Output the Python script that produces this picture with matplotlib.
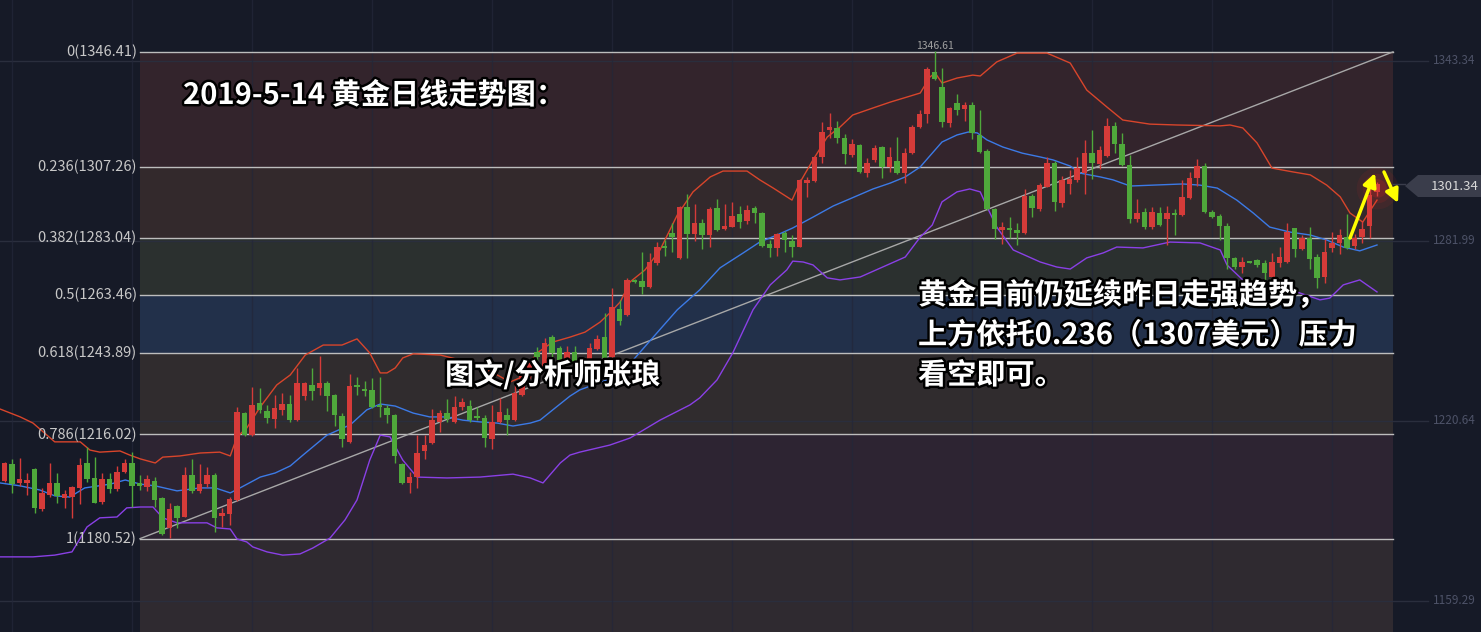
import numpy as np
import matplotlib
matplotlib.use("Agg")
import matplotlib.pyplot as plt
import matplotlib.patheffects as pe
from matplotlib.patches import Polygon
from matplotlib.transforms import IdentityTransform

plt.rcParams['font.family'] = ['Noto Sans CJK SC', 'DejaVu Sans']

# Gold daily candles (red = up, green = down)
opens = [
    1200.2, 1205.9, 1199.5, 1199.5, 1204.2, 1190.6, 1195.4, 1199.5, 1194.4, 1194.7,
    1197.8, 1206.3, 1201.2, 1193.0, 1200.8, 1197.4, 1203.2, 1206.3, 1199.5, 1198.1,
    1200.2, 1194.4, 1184.2, 1191.6, 1187.9, 1202.2, 1196.8, 1199.1, 1202.2, 1188.2,
    1188.9, 1193.7, 1223.3, 1215.8, 1226.8, 1224.0, 1221.3, 1224.4, 1226.4, 1220.9,
    1229.1, 1232.9, 1231.9, 1233.6, 1229.5, 1222.3, 1213.5, 1232.9, 1231.5, 1231.2,
    1226.1, 1225.0, 1222.7, 1205.9, 1199.5, 1201.5, 1210.4, 1213.1, 1220.3, 1223.3,
    1220.3, 1225.4, 1225.7, 1222.0, 1221.6, 1214.5, 1220.3, 1222.7, 1220.9, 1229.5,
    1237.3, 1244.1, 1239.0, 1249.2, 1245.5, 1241.7, 1244.1, 1240.7, 1240.4, 1245.2,
    1249.2, 1242.4, 1258.8, 1256.7, 1268.7, 1268.3, 1266.3, 1274.5, 1280.2, 1284.7,
    1276.2, 1293.6, 1284.3, 1288.1, 1284.0, 1293.2, 1286.1, 1286.7, 1291.2, 1288.8,
    1293.2, 1291.5, 1280.9, 1279.6, 1284.7, 1282.0, 1279.9, 1301.7, 1302.4, 1310.6,
    1319.8, 1320.5, 1317.1, 1311.3, 1314.7, 1305.1, 1309.6, 1314.0, 1307.2, 1309.2,
    1305.1, 1312.0, 1320.8, 1325.2, 1339.6, 1334.5, 1322.2, 1329.0, 1327.0, 1328.3,
    1318.1, 1312.6, 1292.9, 1285.7, 1286.4, 1285.7, 1284.7, 1297.3, 1292.9, 1300.4,
    1308.5, 1294.9, 1301.4, 1302.8, 1305.1, 1312.0, 1308.2, 1311.0, 1321.2, 1315.0,
    1307.9, 1289.5, 1291.8, 1286.7, 1291.5, 1289.5, 1291.5, 1290.8, 1296.6, 1303.4,
    1307.5, 1291.8, 1290.5, 1287.1, 1276.2, 1273.1, 1275.1, 1275.5, 1274.5, 1269.7,
    1274.5, 1274.8, 1286.4, 1279.2, 1283.0, 1276.5, 1269.7, 1279.6, 1281.3, 1283.3,
    1280.3, 1283.3, 1287.1, 1298.7]
highs = [
    1206.6, 1207.7, 1208.0, 1202.9, 1204.6, 1197.8, 1206.3, 1202.9, 1197.1, 1198.5,
    1208.0, 1211.7, 1208.3, 1202.9, 1202.9, 1205.3, 1207.7, 1210.0, 1202.2, 1202.2,
    1201.5, 1194.7, 1192.7, 1192.0, 1204.9, 1207.7, 1205.9, 1204.9, 1202.9, 1191.0,
    1194.7, 1225.4, 1223.7, 1232.2, 1231.9, 1226.1, 1229.5, 1230.2, 1229.5, 1238.7,
    1233.8, 1238.7, 1242.8, 1234.2, 1229.8, 1223.3, 1236.6, 1235.6, 1234.2, 1235.3,
    1235.6, 1226.1, 1223.0, 1206.3, 1203.2, 1215.8, 1215.8, 1224.7, 1224.4, 1228.1,
    1229.1, 1228.5, 1227.8, 1225.4, 1222.7, 1226.1, 1228.5, 1225.0, 1233.9, 1239.0,
    1241.4, 1245.8, 1248.9, 1249.9, 1246.2, 1246.2, 1246.2, 1242.4, 1247.2, 1249.9,
    1257.4, 1265.9, 1261.9, 1269.4, 1269.0, 1278.2, 1277.9, 1281.6, 1282.3, 1288.1,
    1293.9, 1298.0, 1294.6, 1289.5, 1293.6, 1296.3, 1294.6, 1295.3, 1293.9, 1294.2,
    1293.9, 1291.8, 1282.3, 1284.7, 1285.4, 1284.0, 1303.1, 1303.8, 1311.0, 1322.5,
    1325.6, 1322.9, 1318.4, 1316.7, 1315.0, 1310.2, 1314.7, 1314.3, 1314.0, 1317.4,
    1313.7, 1321.5, 1326.6, 1341.3, 1346.6, 1340.9, 1327.6, 1332.1, 1329.3, 1329.3,
    1326.6, 1313.3, 1293.2, 1288.4, 1290.1, 1288.1, 1299.7, 1298.0, 1301.7, 1310.6,
    1309.2, 1304.1, 1306.2, 1310.6, 1316.4, 1319.8, 1314.3, 1323.9, 1322.5, 1318.8,
    1311.3, 1296.3, 1293.2, 1293.6, 1293.6, 1293.9, 1292.9, 1302.8, 1305.5, 1309.9,
    1308.5, 1292.5, 1291.2, 1288.1, 1276.5, 1276.5, 1275.3, 1275.8, 1275.5, 1277.9,
    1279.9, 1288.1, 1286.4, 1284.0, 1286.7, 1277.5, 1282.6, 1285.0, 1286.1, 1291.2,
    1284.3, 1288.8, 1299.7, 1302.1]
lows = [
    1199.8, 1196.1, 1198.5, 1195.4, 1189.3, 1189.9, 1194.7, 1192.7, 1191.0, 1187.6,
    1192.3, 1199.8, 1192.5, 1192.3, 1196.1, 1196.8, 1202.9, 1191.3, 1197.1, 1196.8,
    1191.3, 1181.8, 1180.7, 1184.2, 1187.9, 1196.1, 1196.1, 1198.1, 1182.8, 1184.5,
    1185.2, 1193.5, 1215.5, 1215.5, 1223.3, 1219.9, 1218.2, 1222.7, 1220.3, 1220.6,
    1227.8, 1227.8, 1229.5, 1224.0, 1218.9, 1211.7, 1213.1, 1229.5, 1229.1, 1225.0,
    1222.0, 1219.9, 1206.3, 1199.1, 1196.1, 1197.8, 1207.7, 1212.8, 1216.9, 1220.3,
    1219.9, 1224.4, 1220.3, 1220.9, 1211.7, 1211.1, 1219.9, 1215.8, 1220.6, 1229.1,
    1235.3, 1240.7, 1238.7, 1242.1, 1239.0, 1240.4, 1239.0, 1233.6, 1239.0, 1244.8,
    1241.4, 1242.1, 1253.3, 1256.4, 1267.7, 1263.9, 1265.9, 1273.8, 1276.9, 1278.2,
    1275.8, 1276.2, 1282.0, 1279.2, 1279.9, 1285.4, 1285.7, 1286.7, 1286.4, 1287.8,
    1288.1, 1279.9, 1276.5, 1276.9, 1278.2, 1276.5, 1279.8, 1297.0, 1302.1, 1308.5,
    1317.1, 1315.4, 1308.2, 1310.6, 1305.1, 1303.8, 1308.9, 1303.4, 1305.5, 1304.8,
    1301.7, 1311.6, 1320.5, 1322.2, 1336.8, 1320.8, 1320.8, 1324.9, 1322.9, 1316.7,
    1312.0, 1292.5, 1282.6, 1280.9, 1283.0, 1280.6, 1284.5, 1290.1, 1292.2, 1300.2,
    1292.2, 1293.6, 1298.0, 1302.1, 1298.0, 1303.1, 1306.5, 1310.6, 1312.0, 1307.5,
    1288.1, 1288.4, 1286.1, 1286.1, 1287.1, 1280.6, 1284.0, 1290.5, 1296.3, 1300.7,
    1291.5, 1289.8, 1282.3, 1272.4, 1272.4, 1271.1, 1274.3, 1273.1, 1268.7, 1267.6,
    1273.1, 1274.5, 1276.5, 1278.9, 1272.4, 1265.9, 1267.6, 1278.2, 1277.5, 1279.2,
    1279.2, 1281.3, 1283.0, 1297.3]
closes = [
    1206.3, 1199.1, 1200.8, 1200.5, 1191.0, 1196.1, 1199.5, 1195.1, 1195.7, 1198.1,
    1205.6, 1200.8, 1192.7, 1200.8, 1197.4, 1203.2, 1206.3, 1198.5, 1198.5, 1200.8,
    1193.7, 1182.1, 1190.6, 1187.6, 1202.2, 1196.8, 1199.1, 1202.2, 1187.6, 1189.3,
    1194.0, 1223.7, 1215.8, 1226.1, 1224.4, 1221.6, 1225.0, 1226.4, 1220.9, 1233.6,
    1233.6, 1230.8, 1233.6, 1229.1, 1222.7, 1214.5, 1232.5, 1232.2, 1230.8, 1225.4,
    1225.4, 1222.7, 1208.7, 1199.5, 1201.5, 1209.7, 1212.4, 1220.9, 1223.3, 1221.3,
    1225.4, 1227.1, 1220.9, 1221.6, 1214.8, 1220.3, 1223.7, 1220.9, 1230.2, 1238.0,
    1240.4, 1242.4, 1247.2, 1243.8, 1241.4, 1244.1, 1240.7, 1239.7, 1245.5, 1248.6,
    1242.1, 1259.5, 1254.7, 1268.7, 1268.0, 1266.3, 1274.8, 1279.9, 1279.6, 1283.3,
    1293.6, 1284.3, 1288.1, 1284.0, 1292.9, 1285.7, 1287.1, 1290.5, 1288.4, 1292.5,
    1291.5, 1280.3, 1279.6, 1284.3, 1282.3, 1279.9, 1302.8, 1302.8, 1310.6, 1319.1,
    1320.8, 1317.1, 1311.6, 1315.0, 1305.5, 1308.5, 1313.7, 1307.2, 1310.6, 1305.1,
    1312.0, 1320.8, 1325.2, 1340.6, 1337.2, 1322.5, 1327.3, 1326.6, 1328.3, 1318.8,
    1312.3, 1292.9, 1286.1, 1286.7, 1285.7, 1284.7, 1297.3, 1293.2, 1301.0, 1308.5,
    1295.3, 1302.8, 1303.1, 1306.8, 1312.0, 1308.5, 1313.0, 1321.2, 1315.0, 1307.9,
    1289.5, 1291.5, 1286.7, 1291.8, 1287.4, 1291.5, 1290.8, 1297.0, 1303.4, 1307.5,
    1291.8, 1290.1, 1287.1, 1276.2, 1273.1, 1274.8, 1274.5, 1273.8, 1271.1, 1274.8,
    1276.5, 1285.0, 1279.2, 1283.0, 1275.8, 1269.4, 1278.2, 1281.3, 1284.0, 1279.6,
    1283.0, 1286.1, 1297.6, 1301.3]

# Bollinger bands, sampled along the candle index
upper_x = [-0.6, 2.1, 3.8, 6.7, 10.1, 11.4, 12.7, 15.4, 16.7, 18.1, 20.1, 21.1, 23.4, 26.1,
           28.7, 30.1, 31.0, 32.3, 34.1, 36.3, 38.1, 40.1, 42.5, 45.0, 47.0, 48.7, 50.1,
           51.0, 52.1, 53.1, 54.5, 58.1, 60.3, 63.4, 65.7, 67.4, 68.7, 71.0, 73.1, 75.4,
           77.4, 79.4, 80.7, 82.1, 83.4, 85.4, 87.4, 89.7, 91.8, 94.1, 95.8, 99.0, 100.7,
           102.5, 105.0, 106.1, 107.8, 109.7, 111.4, 113.1, 115.8, 118.1, 120.3, 122.1,
           123.4, 124.1, 125.0, 127.0, 129.1, 130.1, 132.3, 135.0, 139.0, 142.1, 144.3,
           147.0, 149.1, 152.7, 156.3, 162.1, 163.4, 165.1, 167.0, 169.0, 171.8, 174.1,
           176.3, 178.1, 179.4, 181.1, 183.0]
upper_y = [1224.7, 1222.0, 1219.9, 1213.5, 1213.5, 1210.7, 1210.0, 1210.4, 1209.0, 1207.7,
           1206.3, 1208.3, 1208.7, 1209.7, 1210.0, 1208.7, 1215.2, 1218.2, 1225.4, 1232.9,
           1236.3, 1243.1, 1246.5, 1246.5, 1248.6, 1243.8, 1237.0, 1237.0, 1238.7, 1242.1,
           1243.5, 1243.1, 1241.7, 1239.0, 1236.3, 1233.9, 1235.3, 1243.8, 1247.5, 1249.2,
           1250.9, 1254.3, 1257.4, 1261.2, 1268.0, 1272.1, 1278.9, 1290.8, 1298.7, 1303.8,
           1305.8, 1305.8, 1302.8, 1300.0, 1295.9, 1302.1, 1309.6, 1317.4, 1320.8, 1324.9,
           1327.3, 1329.3, 1331.0, 1332.4, 1337.9, 1339.2, 1335.8, 1337.5, 1338.5, 1338.2,
           1343.0, 1346.0, 1346.0, 1342.6, 1333.4, 1327.6, 1323.2, 1321.8, 1321.5, 1321.2,
           1321.5, 1320.5, 1315.4, 1306.8, 1305.5, 1304.5, 1301.0, 1297.0, 1291.5, 1288.4,
           1295.9]
mid_x = [-0.6, 2.1, 4.7, 6.7, 8.7, 10.7, 14.1, 16.1, 18.1, 20.1, 23.0, 26.1, 28.1, 30.1,
         31.4, 34.1, 36.1, 38.1, 39.8, 43.0, 46.1, 48.3, 50.1, 52.1, 54.5, 56.7, 59.0, 61.1,
         63.4, 65.7, 67.8, 70.1, 71.4, 73.1, 75.4, 76.7, 80.3, 83.0, 86.5, 89.7, 92.7, 95.4,
         98.5, 100.7, 103.0, 105.1, 107.8, 110.5, 112.7, 115.8, 118.1, 120.1, 122.1, 123.7,
         125.0, 127.0, 128.5, 129.7, 131.0, 133.1, 135.7, 138.1, 139.8, 142.1, 143.4, 146.1,
         147.8, 150.1, 153.1, 157.1, 159.4, 161.7, 164.3, 166.5, 168.7, 171.4, 174.1, 176.3,
         178.5, 180.7, 183.0]
mid_y = [1199.5, 1198.5, 1197.1, 1195.1, 1194.7, 1197.8, 1199.1, 1200.5, 1199.1, 1198.5,
         1196.8, 1197.8, 1197.8, 1196.1, 1197.8, 1201.5, 1202.9, 1205.3, 1209.0, 1215.8,
         1219.3, 1224.4, 1226.4, 1225.7, 1223.3, 1222.0, 1222.0, 1220.9, 1220.3, 1219.9,
         1218.9, 1219.9, 1220.9, 1224.4, 1229.1, 1231.2, 1234.6, 1239.0, 1249.2, 1258.5,
         1265.3, 1272.8, 1277.9, 1281.6, 1284.0, 1286.4, 1290.1, 1293.9, 1296.3, 1299.7,
         1301.7, 1303.8, 1307.2, 1311.9, 1315.7, 1318.1, 1319.1, 1318.8, 1316.4, 1314.0,
         1311.9, 1310.6, 1309.6, 1307.5, 1305.1, 1303.8, 1302.8, 1300.7, 1301.0, 1301.4,
         1301.0, 1300.0, 1295.9, 1291.5, 1286.7, 1285.0, 1284.0, 1282.3, 1279.9, 1278.6,
         1280.6]
lower_x = [-0.6, 3.8, 6.7, 9.0, 11.0, 12.7, 15.0, 16.3, 18.1, 19.8, 21.1, 23.0, 27.0, 28.3,
           30.1, 31.0, 32.3, 33.1, 35.0, 37.1, 39.4, 41.1, 43.4, 45.4, 47.0, 48.7, 50.1,
           51.4, 53.1, 55.0, 59.0, 63.4, 67.8, 70.1, 71.8, 74.1, 75.4, 76.7, 80.7, 83.4,
           87.4, 91.4, 92.7, 95.0, 97.1, 99.8, 102.1, 104.3, 105.1, 106.5, 107.8, 109.7,
           111.4, 114.1, 117.1, 120.1, 122.1, 123.7, 125.0, 127.0, 128.7, 130.1, 131.0,
           132.3, 134.5, 138.1, 140.3, 142.1, 144.3, 146.5, 148.3, 151.8, 155.4, 159.4,
           162.1, 163.0, 165.1, 166.5, 169.7, 172.3, 175.4, 176.7, 178.5, 180.7, 183.0]
lower_y = [1174.3, 1174.3, 1174.9, 1176.0, 1184.5, 1187.6, 1187.9, 1191.0, 1191.3, 1191.3,
           1187.6, 1185.9, 1185.9, 1184.2, 1183.8, 1180.4, 1179.4, 1177.7, 1176.0, 1174.9,
           1175.3, 1177.3, 1180.7, 1186.9, 1193.7, 1207.3, 1215.8, 1215.2, 1207.3, 1201.5,
           1201.2, 1201.5, 1202.5, 1201.2, 1199.5, 1206.3, 1209.0, 1210.0, 1212.4, 1214.8,
           1220.9, 1226.1, 1228.5, 1234.6, 1243.8, 1258.5, 1267.0, 1272.1, 1275.1, 1274.8,
           1273.8, 1269.4, 1268.7, 1269.7, 1273.1, 1276.5, 1283.3, 1287.4, 1295.3, 1298.7,
           1299.7, 1298.7, 1293.6, 1286.7, 1278.9, 1274.8, 1273.1, 1272.4, 1276.2, 1277.9,
           1279.9, 1279.6, 1281.6, 1281.3, 1278.9, 1273.8, 1268.7, 1267.0, 1266.3, 1264.6,
           1261.9, 1262.5, 1267.0, 1268.7, 1264.6]

# Fibonacci retracement
fib_ratios = ['0', '0.236', '0.382', '0.5', '0.618', '0.786', '1']
fib_prices = [1346.41, 1307.26, 1283.04, 1263.46, 1243.89, 1216.02, 1180.52]
zone_colors = ['#33242c', '#33292c', '#2b302f', '#22304a', '#302c2e', '#2d2432', '#2f2a30']

right_ticks = [1343.34, 1281.99, 1220.64, 1159.29]
last_price = 1301.34
peak_label = '1346.61'

W, H = 1481, 632
BG = '#161a27'


def px(x):
    # figure pixel x -> candle index
    return (x - 4.5) / 7.5


fig = plt.figure(figsize=(W / 100, H / 100), dpi=100, facecolor=BG)
ax = fig.add_axes([0, 0, 1, 1])
ax.set_facecolor(BG)
ax.set_xlim(px(0), px(W))
ax.set_ylim(1364.1 - H / 2.934, 1364.1)
ax.axis('off')

# fib zones
x0, x1 = 140 / W, 1393 / W
bounds = fib_prices + [1364.1 - H / 2.934]
for i, c in enumerate(zone_colors):
    ax.axhspan(bounds[i + 1], bounds[i], xmin=x0, xmax=x1, color=c, lw=0, zorder=0)

# grid
for p in right_ticks:
    ax.plot([px(0), px(1428)], [p, p], color='#2a2e3d', lw=1, zorder=1)
for k in range(12):
    ax.axvline(1 + 16 * k, color='#23273a', lw=1, alpha=0.7, zorder=1)

for r, p in zip(fib_ratios, fib_prices):
    ax.plot([px(140), px(1393)], [p, p], color='#bdbdbd', lw=1, zorder=2)
    ax.text(px(137), p, f'{r}({p:.2f})', ha='right', va='center', color='#c8c8c8',
            fontsize=10.5, zorder=5)

# diagonal fib line
ax.plot([px(140), px(1393)], [fib_prices[-1], fib_prices[0]], color='#a8a8a8', lw=1, zorder=2)

# bands
ax.plot(upper_x, upper_y, color='#d8452b', lw=1, zorder=3)
ax.plot(mid_x, mid_y, color='#3c7ae6', lw=1, zorder=3)
ax.plot(lower_x, lower_y, color='#8a40e6', lw=1, zorder=3)

# candles
o = np.array(opens)
h = np.array(highs)
l = np.array(lows)
c = np.array(closes)
idx = np.arange(len(o))
up = c >= o
cols = np.where(up, '#d53b39', '#4fa83b')
ax.vlines(idx, l, h, colors=cols, lw=1, zorder=4)
body = np.maximum(np.abs(c - o), 0.6)
ax.bar(idx, body, bottom=np.minimum(o, c), width=0.68, color=cols, lw=0, zorder=4)

# glow on last candle
for s, a in [(900, 0.07), (450, 0.11), (180, 0.16)]:
    ax.scatter([idx[-1]], [closes[-1] - 1.3], s=s, color='#ff2020', alpha=a, lw=0, zorder=3.5)

ax.text(px(935), 1364.1 - 46 / 2.934, peak_label, ha='center', va='center', color='#a0a0a0',
        fontsize=7.5, zorder=5)

# right side labels
for p in right_ticks:
    ax.text(px(1433), p, f'{p:.2f}', ha='left', va='center', color='#4d5267', fontsize=8.5)

# last price tag
tag_y = H - 186
tag = Polygon([(1405, tag_y), (1418, tag_y + 11), (1481, tag_y + 11), (1481, tag_y - 11),
               (1418, tag_y - 11)], closed=True, transform=IdentityTransform(),
              facecolor='#3a3d4b', edgecolor='none', zorder=6)
fig.patches.append(tag)
ax.plot([px(1393), px(1405)], [last_price, last_price], color='#3a3d4b', lw=1, zorder=5)
fig.text(1455 / W, 1 - 186 / H, f'{last_price:.2f}', ha='center', va='center',
         color='#d8d8d8', fontsize=9.5, zorder=7)

# annotations
stroke = [pe.withStroke(linewidth=3.5, foreground='black')]
fig.text(183 / W, 1 - 95 / H, '2019-5-14 黄金日线走势图：', ha='left', va='center',
         color='white', fontsize=21, fontweight='bold', style='italic', path_effects=stroke)
fig.text(445 / W, 1 - 375 / H, '图文/分析师张琅', ha='left', va='center',
         color='white', fontsize=21, fontweight='bold', path_effects=stroke)
lines = ['黄金目前仍延续昨日走强趋势，', '上方依托0.236（1307美元）压力', '看空即可。']
for j, t in enumerate(lines):
    fig.text(918 / W, 1 - (295 + 40 * j) / H, t, ha='left', va='center', color='white',
             fontsize=21, fontweight='bold', path_effects=stroke)

# yellow arrows
arrow = dict(arrowstyle='-|>', color='#ffff00', lw=2.5, mutation_scale=20, shrinkA=0, shrinkB=0)
ax.annotate('', xy=(1375, H - 173), xytext=(1350, H - 238), xycoords='figure pixels',
            textcoords='figure pixels', arrowprops=arrow, zorder=8)
ax.annotate('', xy=(1398, H - 203), xytext=(1384, H - 172), xycoords='figure pixels',
            textcoords='figure pixels', arrowprops=arrow, zorder=8)

fig.savefig('out.png', dpi=100, facecolor=BG)
